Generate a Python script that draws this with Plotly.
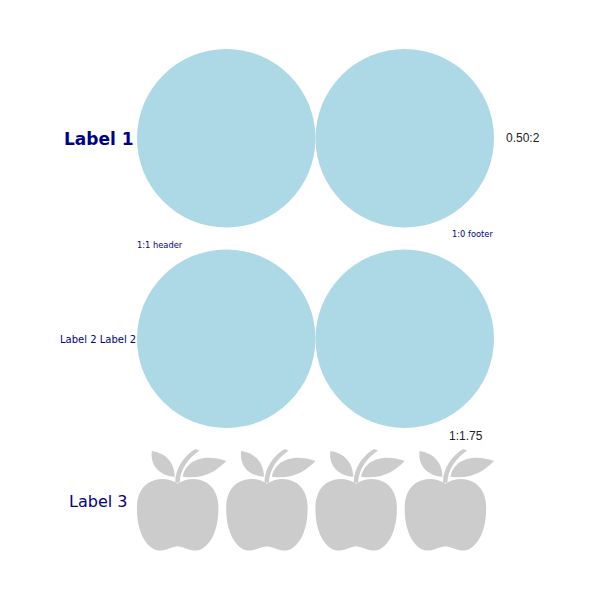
import plotly.graph_objects as go

# ---- data ----
categories = ["Label 1", "Label 2 Label 2", "Label 3"]
values = [2, 2, 4]
icons = ["circle", "circle", "apple"]
side_labels = ["0.50:2", "", "1:1.75"]
header_text = "1:1 header"
footer_text = "1:0 footer"

# ---- styling / layout constants ----
W = H = 600
PAGE_OFFSET = 8  # default body margin of the page
ROW_LEFT, ROW_RIGHT = 137, 494
GAPS = [22, 21]
CIRCLE_COLOR = "#ADD8E6"
APPLE_COLOR = "#CCCCCC"
LABEL_COLOR = "#00008B"
APPLE_ASPECT = 102 / 89.25

# apple template on a 90-wide grid
APPLE_TPL_W = 90.0
APPLE_TEMPLATE = [
    # body
    [("M", [(41, 35)]),
     ("C", [(47, 31), (55, 29), (63, 31)]),
     ("C", [(76, 34), (83, 46), (82, 62)]),
     ("C", [(82, 80), (75, 96), (65, 101)]),
     ("C", [(56, 105), (50, 99), (41, 98)]),
     ("C", [(32, 99), (26, 105), (17, 101)]),
     ("C", [(7, 96), (0, 80), (0, 62)]),
     ("C", [(-1, 46), (6, 34), (19, 31)]),
     ("C", [(27, 29), (35, 31), (41, 35)]),
     ("Z", [])],
    # stem
    [("M", [(38.5, 34)]),
     ("C", [(38.5, 20), (47, 7), (59, 0)]),
     ("L", [(63, 1.5)]),
     ("C", [(52, 9), (43.5, 20), (43, 34)]),
     ("Z", [])],
    # left leaf
    [("M", [(15, 2)]),
     ("C", [(29, 4), (38, 14), (38, 28)]),
     ("C", [(23, 27), (13, 17), (15, 2)]),
     ("Z", [])],
    # right leaf
    [("M", [(46, 28)]),
     ("C", [(48, 15), (63, 3), (90, 12)]),
     ("C", [(81, 21), (68, 31), (46, 28)]),
     ("Z", [])],
]


def apple_paths(x0, y0, w):
    s = w / APPLE_TPL_W
    out = []
    for part in APPLE_TEMPLATE:
        segs = []
        for cmd, pts in part:
            if cmd == "Z":
                segs.append("Z")
            else:
                segs.append(cmd + " " + " ".join(
                    f"{x0 + px * s:.2f},{y0 + py * s:.2f}" for px, py in pts))
        out.append(" ".join(segs))
    return out


row_w = ROW_RIGHT - ROW_LEFT
cell_ws = [row_w / v for v in values]
row_hs = [cw if ic == "circle" else cw * APPLE_ASPECT for cw, ic in zip(cell_ws, icons)]
total_h = sum(row_hs) + sum(GAPS)
tops = []
y = (H - total_h) / 2
for i, h in enumerate(row_hs):
    tops.append(y)
    y += h + (GAPS[i] if i < len(GAPS) else 0)

shapes = []
for r, (n, ic) in enumerate(zip(values, icons)):
    cw = cell_ws[r]
    for i in range(n):
        x0 = ROW_LEFT + i * cw
        if ic == "circle":
            shapes.append(dict(type="circle", xref="x", yref="y",
                               x0=x0, x1=x0 + cw, y0=tops[r], y1=tops[r] + row_hs[r],
                               fillcolor=CIRCLE_COLOR, line=dict(width=0), layer="below"))
        else:
            for p in apple_paths(x0, tops[r], cw):
                shapes.append(dict(type="path", xref="x", yref="y", path=p,
                                   fillcolor=APPLE_COLOR, line=dict(width=0), layer="below"))

centers = [t + h / 2 for t, h in zip(tops, row_hs)]
label_fonts = [
    dict(family="DejaVu Sans", size=17, color=LABEL_COLOR, weight="bold"),
    dict(family="DejaVu Sans", size=10, color=LABEL_COLOR),
    dict(family="DejaVu Sans", size=16, color=LABEL_COLOR),
]
label_right = [ROW_LEFT - 1, ROW_LEFT + 1, ROW_LEFT - 8]

annotations = []
for r, cat in enumerate(categories):
    annotations.append(dict(x=label_right[r], y=centers[r] + 1, xref="x", yref="y",
                            text=cat, showarrow=False, xanchor="right", yanchor="middle",
                            font=label_fonts[r]))

val_font = dict(family="Liberation Sans", size=12, color="#222222")
annotations.append(dict(x=ROW_RIGHT + 10, y=centers[0], xref="x", yref="y",
                        text=side_labels[0], showarrow=False, xanchor="left",
                        yanchor="middle", font=val_font))
annotations.append(dict(x=ROW_RIGHT - 9, y=tops[2] - 13, xref="x", yref="y",
                        text=side_labels[2], showarrow=False, xanchor="right",
                        yanchor="middle", font=val_font))

small_font = dict(family="DejaVu Sans", size=8.3, color=LABEL_COLOR)
row1_bottom = tops[0] + row_hs[0]
annotations.append(dict(x=ROW_LEFT - 2, y=row1_bottom + 17, xref="x", yref="y",
                        text=header_text, showarrow=False, xanchor="left",
                        yanchor="middle", font=small_font))
annotations.append(dict(x=ROW_RIGHT + 1, y=row1_bottom + 6, xref="x", yref="y",
                        text=footer_text, showarrow=False, xanchor="right",
                        yanchor="middle", font=small_font))

fig = go.Figure()
fig.add_trace(go.Scatter(x=[], y=[], showlegend=False))
fig.update_layout(
    width=W, height=H,
    margin=dict(l=0, r=0, t=0, b=0),
    paper_bgcolor="white", plot_bgcolor="white",
    xaxis=dict(range=[PAGE_OFFSET, W + PAGE_OFFSET], visible=False, fixedrange=True),
    yaxis=dict(range=[H + PAGE_OFFSET, PAGE_OFFSET], visible=False, fixedrange=True),
    shapes=shapes, annotations=annotations, showlegend=False,
)
fig.write_html("out.html")
